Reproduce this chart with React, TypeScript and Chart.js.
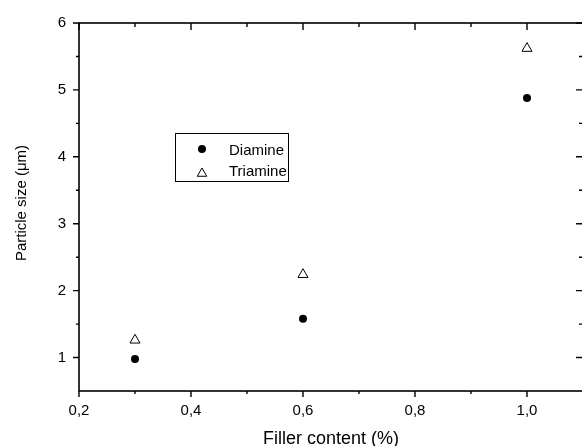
import React, { useEffect, useRef } from 'react';
import { Chart, registerables } from 'chart.js';

Chart.register(...registerables);

// ---- data ----
const fillerContent = [0.3, 0.6, 1.0];
const diamine = [0.98, 1.58, 4.88];
const triamine = [1.26, 2.24, 5.62];
const seriesNames = ['Diamine', 'Triamine'];

// ---- axes ----
const xTitle = 'Filler content (%)';
const yTitle = 'Particle size (\u03BCm)';
const xMajorTicks = [0.2, 0.4, 0.6, 0.8, 1.0];
const xMinorTicks = [0.3, 0.5, 0.7, 0.9];
const yMajorTicks = [1, 2, 3, 4, 5, 6];
const yMinorTicks = [1.5, 2.5, 3.5, 4.5, 5.5];
const X_MIN = 0.2;
const X_MAX = 1.1;
const Y_MIN = 0.5;
const Y_MAX = 6;

const FONT = '"Liberation Sans", Arial, sans-serif';

const framePlugin = {
  id: 'frameAndLegend',
  beforeDatasetsDraw(chart: any) {
    const { ctx, chartArea: a, scales } = chart;
    const xs = scales.x;
    const ys = scales.y;
    ctx.save();
    ctx.strokeStyle = '#000';
    ctx.lineWidth = 1.6;
    ctx.strokeRect(a.left, a.top, a.right - a.left, a.bottom - a.top);
    ctx.lineWidth = 1.4;
    const MAJ = 6;
    const MIN = 3;
    ctx.beginPath();
    const xt = (vals: number[], len: number) => {
      vals.forEach((v) => {
        const px = xs.getPixelForValue(v);
        ctx.moveTo(px, a.bottom);
        ctx.lineTo(px, a.bottom + len);
        ctx.moveTo(px, a.top);
        ctx.lineTo(px, a.top + len + 1);
      });
    };
    const yt = (vals: number[], len: number) => {
      vals.forEach((v) => {
        const py = ys.getPixelForValue(v);
        ctx.moveTo(a.left, py);
        ctx.lineTo(a.left - len, py);
        ctx.moveTo(a.right, py);
        ctx.lineTo(a.right - len - 1, py);
      });
    };
    xt(xMajorTicks, MAJ);
    xt(xMinorTicks, MIN);
    yt(yMajorTicks, MAJ);
    yt(yMinorTicks, MIN);
    ctx.stroke();
    ctx.restore();
  },
  afterDraw(chart: any) {
    const { ctx, chartArea: a } = chart;
    ctx.save();
    ctx.fillStyle = '#000';
    // axis titles
    ctx.font = `18px ${FONT}`;
    ctx.textAlign = 'center';
    ctx.textBaseline = 'alphabetic';
    ctx.fillText(xTitle, (a.left + a.right) / 2, 444);
    ctx.save();
    ctx.translate(26, 203);
    ctx.rotate(-Math.PI / 2);
    ctx.font = `15px ${FONT}`;
    ctx.fillText(yTitle, 0, 0);
    ctx.restore();

    // legend
    ctx.strokeStyle = '#000';
    ctx.lineWidth = 1;
    ctx.strokeRect(175.5, 133.5, 113, 48);
    ctx.font = `15px ${FONT}`;
    ctx.textAlign = 'left';
    ctx.textBaseline = 'middle';
    // Diamine marker
    ctx.beginPath();
    ctx.arc(202, 149, 4, 0, Math.PI * 2);
    ctx.fillStyle = '#000';
    ctx.fill();
    ctx.fillText(seriesNames[0], 229, 150.5);
    // Triamine marker
    const r = 5.5;
    const cx = 202;
    const cy = 173.5;
    ctx.beginPath();
    for (let i = 0; i < 3; i++) {
      const ang = (i * 2 * Math.PI) / 3;
      const px = cx + Math.sin(ang) * r;
      const py = cy - Math.cos(ang) * r;
      if (i === 0) ctx.moveTo(px, py);
      else ctx.lineTo(px, py);
    }
    ctx.closePath();
    ctx.fillStyle = '#fff';
    ctx.fill();
    ctx.strokeStyle = '#000';
    ctx.stroke();
    ctx.fillStyle = '#000';
    ctx.fillText(seriesNames[1], 229, 172);
    ctx.restore();
  },
};

export default function App() {
  const ref = useRef<HTMLCanvasElement>(null);
  useEffect(() => {
    if (!ref.current) return;
    const chart = new Chart(ref.current, {
      type: 'scatter',
      data: {
        datasets: [
          {
            label: seriesNames[0],
            data: fillerContent.map((x, i) => ({ x, y: diamine[i] })),
            pointStyle: 'circle',
            pointRadius: 4,
            backgroundColor: '#000',
            borderColor: '#000',
            borderWidth: 0,
          },
          {
            label: seriesNames[1],
            data: fillerContent.map((x, i) => ({ x, y: triamine[i] })),
            pointStyle: 'triangle',
            pointRadius: 5.8,
            backgroundColor: '#fff',
            borderColor: '#000',
            borderWidth: 1,
          },
        ],
      },
      options: {
        responsive: false,
        animation: false,
        events: [],
        layout: { padding: { left: 0, top: 23, right: 17, bottom: 0 } },
        plugins: { legend: { display: false }, tooltip: { enabled: false } },
        scales: {
          x: {
            type: 'linear',
            min: X_MIN,
            max: X_MAX,
            grid: { display: false, drawTicks: false },
            border: { display: false },
            afterBuildTicks: (s: any) => {
              s.ticks = xMajorTicks.map((v) => ({ value: v }));
            },
            afterFit: (s: any) => {
              s.height = 55;
            },
            ticks: {
              padding: 11,
              color: '#000',
              maxRotation: 0,
              autoSkip: false,
              font: { family: FONT, size: 15 },
              callback: (v: any) => Number(v).toFixed(1).replace('.', ','),
            },
          },
          y: {
            type: 'linear',
            min: Y_MIN,
            max: Y_MAX,
            grid: { display: false, drawTicks: false },
            border: { display: false },
            afterBuildTicks: (s: any) => {
              s.ticks = yMajorTicks.map((v) => ({ value: v }));
            },
            afterFit: (s: any) => {
              s.width = 79;
            },
            ticks: {
              padding: 13,
              color: '#000',
              autoSkip: false,
              font: { family: FONT, size: 15 },
              callback: (v: any) => String(Math.round(Number(v))),
            },
          },
        },
      },
      plugins: [framePlugin],
    });
    return () => chart.destroy();
  }, []);
  return (
    <div
      style={{
        position: 'absolute',
        left: 0,
        top: 0,
        width: 582,
        height: 446,
        overflow: 'hidden',
        background: '#fff',
      }}
    >
      <canvas ref={ref} width={600} height={446} style={{ display: 'block', width: 600, height: 446 }} />
    </div>
  );
}
